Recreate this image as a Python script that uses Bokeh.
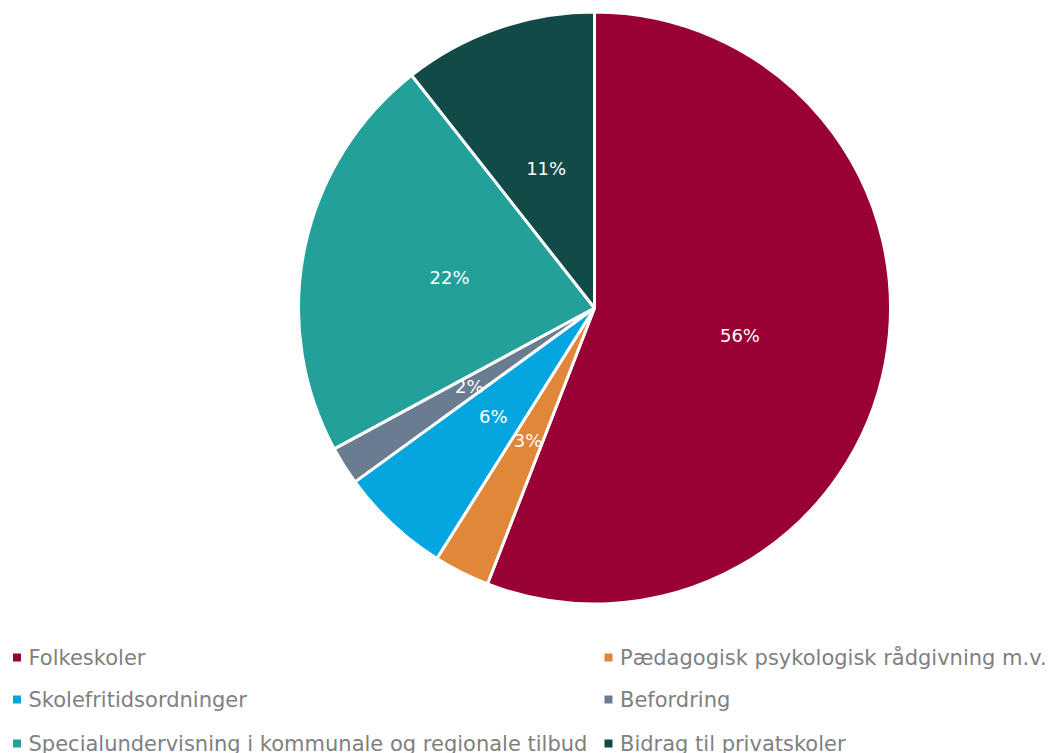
import math
from bokeh.plotting import figure
from bokeh.models import Range1d, ColumnDataSource
from bokeh.core.properties import value
from bokeh.embed import file_html
from bokeh.resources import INLINE

categories = ["Folkeskoler", "Pædagogisk psykologisk rådgivning m.v.", "Skolefritidsordninger",
              "Befordring", "Specialundervisning i kommunale og regionale tilbud", "Bidrag til privatskoler"]
values = [55.9, 3.05, 6.07, 2.1, 22.3, 10.6]
colors = ["#990033", "#E0873A", "#05A6E0", "#6A7D90", "#22A099", "#124A48"]

W, H = 1050, 753
FONT = "DejaVu Sans"

p = figure(width=W, height=H, output_backend="svg", toolbar_location=None,
           x_range=Range1d(0, W), y_range=Range1d(0, H), min_border=0)
p.axis.visible = False
p.grid.visible = False
p.outline_line_color = None
p.background_fill_color = "white"

cx, cy, r = 594, 445.5, 296
total = sum(values)
starts, ends, lx, ly, labels = [], [], [], [], []
cum = 0.0
for v in values:
    a0 = math.pi / 2 - 2 * math.pi * cum / total
    cum += v
    a1 = math.pi / 2 - 2 * math.pi * cum / total
    starts.append(a0)
    ends.append(a1)
    m = (a0 + a1) / 2
    lx.append(cx + 0.5 * r * math.cos(m))
    ly.append(cy + 0.5 * r * math.sin(m))
    labels.append(f"{round(v / total * 100)}%")

src = ColumnDataSource(dict(start=starts, end=ends, color=colors, lx=lx, ly=ly, label=labels))
p.wedge(x=cx, y=cy, radius=r, start_angle="start", end_angle="end", direction="clock",
        fill_color="color", line_color="white", line_width=3, source=src)
p.text(x="lx", y="ly", text="label", source=src, text_color="white", text_align="center",
       text_baseline="middle", text_font=value(FONT), text_font_size="18px")

# legend (manual, two columns row-major)
col_x = [16.5, 608]
row_y = [96, 54, 10]
sq_x, sq_y, tx, ty = [], [], [], []
for i in range(len(categories)):
    row, col = i // 2, i % 2
    sq_x.append(col_x[col])
    sq_y.append(row_y[row])
    tx.append(col_x[col] + 11.5)
    ty.append(row_y[row])
p.rect(x=sq_x, y=sq_y, width=8, height=8, fill_color=colors, line_color=None)
p.text(x=tx, y=ty, text=categories, text_color="#808080", text_align="left",
       text_baseline="middle", text_font=value(FONT), text_font_size="21px")

open("out.html", "w").write(file_html(p, INLINE))
